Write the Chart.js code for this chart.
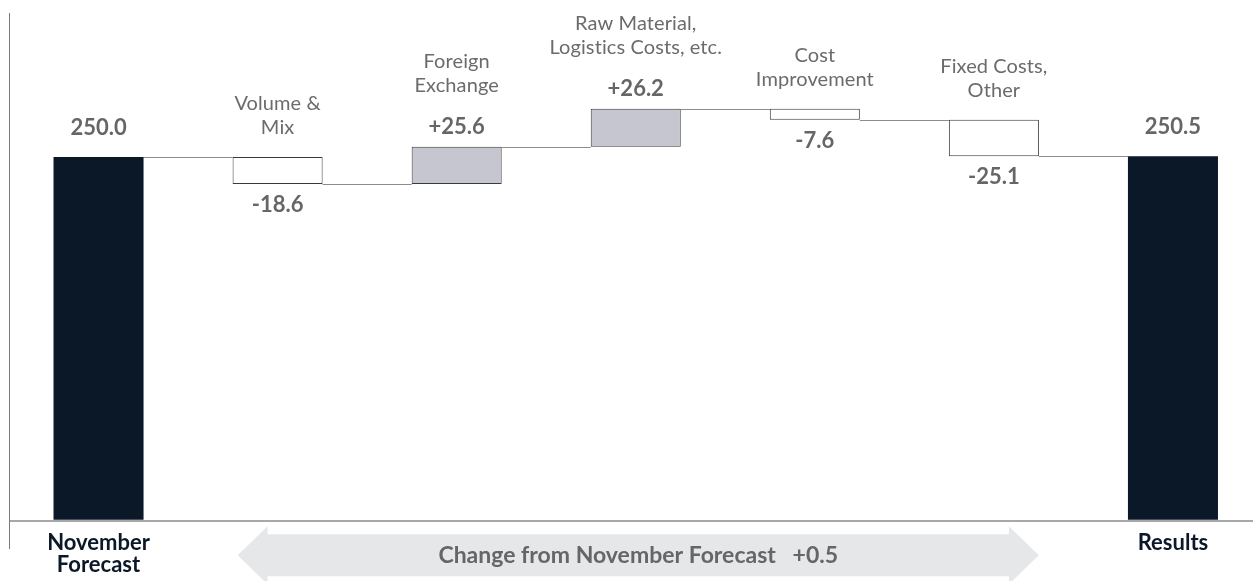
<!DOCTYPE html>
<html><head><meta charset="utf-8">
<script src="https://cdn.jsdelivr.net/npm/chart.js@4/dist/chart.umd.min.js"></script>
<style>html,body{margin:0;padding:0;background:#fff}#wrap{width:1253px;height:581px;position:relative}</style>
</head><body><div id="wrap"><canvas id="c"></canvas></div>
<script>
const categories = [["November","Forecast"], ["Volume &","Mix"], ["Foreign","Exchange"], ["Raw Material,","Logistics Costs, etc."], ["Cost","Improvement"], ["Fixed Costs,","Other"], ["Results"]];
const startTotal = 250.0;
const deltas = [-18.6, 25.6, 26.2, -7.6, -25.1];
const endTotal = 250.5;
const valueLabels = ["250.0","-18.6","+25.6","+26.2","-7.6","-25.1","250.5"];
const changeLabel = "Change from November Forecast";
const changeValue = "+0.5";

// build floating bars from the values
const ranges = [];
const kinds = [];
const levels = [];
ranges.push([0, startTotal]); kinds.push('total'); levels.push(startTotal);
let run = startTotal;
deltas.forEach(d => {
  const next = Math.round((run + d) * 10) / 10;
  ranges.push([Math.min(run, next), Math.max(run, next)]);
  kinds.push(d >= 0 ? 'pos' : 'neg');
  run = next; levels.push(run);
});
ranges.push([0, endTotal]); kinds.push('total'); levels.push(endTotal);

const colorMap = {total:'#0b1828', pos:'#c5c6cf', neg:'#ffffff'};
const FONT = 'Lato, "Open Sans", sans-serif';

const waterfallDecor = {
  id: 'waterfallDecor',
  beforeDatasetsDraw(chart) {
    const ctx = chart.ctx;
    const meta = chart.getDatasetMeta(0);
    const y = chart.scales.y;
    // arrow under axis
    const b1 = meta.data[1], b5 = meta.data[meta.data.length - 2];
    const left = b1.x - b1.width / 2 + 5, right = b5.x + b5.width / 2;
    const cy = y.getPixelForValue(0) + 34.5;
    const bodyH = 21, headH = 29, headL = 30;
    ctx.save();
    ctx.fillStyle = '#e6e7e9';
    ctx.beginPath();
    ctx.moveTo(left, cy);
    ctx.lineTo(left + headL, cy - headH);
    ctx.lineTo(left + headL, cy - bodyH);
    ctx.lineTo(right - headL, cy - bodyH);
    ctx.lineTo(right - headL, cy - headH);
    ctx.lineTo(right, cy);
    ctx.lineTo(right - headL, cy + headH);
    ctx.lineTo(right - headL, cy + bodyH);
    ctx.lineTo(left + headL, cy + bodyH);
    ctx.lineTo(left + headL, cy + headH);
    ctx.closePath();
    ctx.fill();
    ctx.fillStyle = '#666666';
    ctx.font = 'bold 23px ' + FONT;
    ctx.textAlign = 'center';
    ctx.textBaseline = 'middle';
    ctx.fillText(changeLabel + '   ' + changeValue, (left + right) / 2, cy);
    // connectors
    ctx.strokeStyle = '#8c8c8c';
    ctx.lineWidth = 1;
    for (let i = 0; i < meta.data.length - 1; i++) {
      const a = meta.data[i], b = meta.data[i + 1];
      const ly = Math.round(y.getPixelForValue(levels[i])) + 0.5;
      ctx.beginPath();
      ctx.moveTo(a.x + a.width / 2, ly);
      ctx.lineTo(b.x - b.width / 2, ly);
      ctx.stroke();
    }
    ctx.restore();
  },
  afterDatasetsDraw(chart) {
    const ctx = chart.ctx;
    const meta = chart.getDatasetMeta(0);
    const y = chart.scales.y;
    ctx.save();
    ctx.textAlign = 'center';
    ctx.textBaseline = 'middle';
    meta.data.forEach((bar, i) => {
      const top = y.getPixelForValue(ranges[i][1]);
      const bottom = y.getPixelForValue(ranges[i][0]);
      ctx.font = 'bold 22px ' + FONT;
      ctx.fillStyle = '#666666';
      ctx.letterSpacing = '0px';
      if (kinds[i] === 'total') {
        ctx.fillText(valueLabels[i], bar.x, top - 29);
        ctx.font = 'bold 22px ' + FONT;
        ctx.fillStyle = '#0b1828';
        categories[i].forEach((t, k) => ctx.fillText(t, bar.x, y.getPixelForValue(0) + 22 + k * 22));
      } else {
        let lastLine;
        if (kinds[i] === 'pos') {
          const vy = top - 20;
          ctx.fillText(valueLabels[i], bar.x, vy);
          lastLine = vy - 41;
        } else {
          ctx.fillText(valueLabels[i], bar.x, bottom + 21);
          lastLine = top - 29;
        }
        ctx.font = '20px ' + FONT;
        ctx.letterSpacing = '0.1px';
        ctx.fillStyle = '#6b6b6b';
        const lines = categories[i];
        lines.forEach((t, k) => ctx.fillText(t, bar.x, lastLine - (lines.length - 1 - k) * 24.5));
      }
    });
    ctx.restore();
  }
};

new Chart(document.getElementById('c'), {
  type: 'bar',
  data: {
    datasets: [{
      data: ranges.map((r, i) => ({x: i, y: r})),
      backgroundColor: kinds.map(k => colorMap[k]),
      borderColor: kinds.map(k => k === 'total' ? '#0b1828' : '#3a3a3a'),
      borderWidth: kinds.map(k => k === 'total' ? 0 : 1),
      borderSkipped: false,
      barPercentage: 90 / 179,
      categoryPercentage: 1
    }]
  },
  options: {
    responsive: true,
    maintainAspectRatio: false,
    animation: false,
    layout: {padding: {left: 9, right: 0, top: 13, bottom: 33}},
    plugins: {legend: {display: false}, tooltip: {enabled: false}},
    scales: {
      x: {
        type: 'linear', min: -0.5, max: 6.447, offset: false, display: false,
        afterBuildTicks: axis => { axis.ticks = categories.map((_, i) => ({value: i})); }
      },
      y: {
        min: -18.75, max: 349,
        ticks: {display: false},
        afterBuildTicks: axis => { axis.ticks = [{value: 0}]; },
        grid: {drawTicks: false, lineWidth: 2, color: '#a8a8a8'},
        border: {display: true, color: '#7a7a7a', width: 1}
      }
    }
  },
  plugins: [waterfallDecor]
});
</script></body></html>
